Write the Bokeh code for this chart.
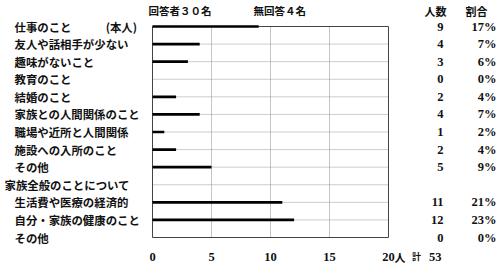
from bokeh.plotting import figure
from bokeh.models import Range1d, ColumnDataSource
from bokeh.core.properties import value
from bokeh.embed import file_html
from bokeh.resources import INLINE

# ---- data ----
categories = ["仕事のこと　　　(本人)", "友人や話相手が少ない", "趣味がないこと", "教育のこと",
              "結婚のこと", "家族との人間関係のこと", "職場や近所と人間関係", "施設への入所のこと",
              "その他", "家族全般のことについて", "生活費や医療の経済的", "自分・家族の健康のこと", "その他"]
counts = [9, 4, 3, 0, 2, 4, 1, 2, 5, None, 11, 12, 0]
percents = ["17%", "7%", "6%", "0%", "4%", "7%", "2%", "4%", "9%", "", "21%", "23%", "0%"]
is_heading = [False, False, False, False, False, False, False, False, False, True, False, False, False]
x_ticks = [0, 5, 10, 15, 20]
x_unit = "人"
respondents = "回答者３０名"
no_answer = "無回答４名"
count_header = "人数"
pct_header = "割合"
total_label = "計"
total_value = "53"

rows = list(range(len(categories)))
n = len(categories)
xmax = x_ticks[-1]

W, H = 500, 265
left_px, right_px = 152, 388
top_px, bottom_px = 26, 237
sx = (right_px - left_px) / xmax
sy = (bottom_px - top_px) / (n - 1)

p = figure(width=W, height=H, output_backend="svg", toolbar_location=None,
           x_range=Range1d(-left_px / sx, (W - left_px) / sx),
           y_range=Range1d((H - top_px) / sy, -top_px / sy),
           min_border=0, outline_line_color=None)
p.axis.visible = False
p.grid.visible = False
p.background_fill_color = "white"
p.border_fill_color = "white"

# horizontal dotted grid lines at each row
p.segment(x0=[0] * n, x1=[xmax] * n, y0=rows, y1=rows, line_color="#9a9a9a",
          line_width=1, line_dash="1 1")
# vertical dotted grid lines
inner = x_ticks[1:-1]
p.segment(x0=inner, x1=inner, y0=[0] * len(inner), y1=[n - 1] * len(inner),
          line_color="#8a8a8a", line_width=1, line_dash="1 1")
# frame
p.quad(left=[0], right=[xmax], top=[0], bottom=[n - 1], fill_color=None,
       line_color="#444444", line_width=1)

# bars
bar_rows = [r for r, c in zip(rows, counts) if c]
bar_vals = [c for c in counts if c]
p.segment(x0=[0] * len(bar_vals), x1=bar_vals, y0=bar_rows, y1=bar_rows,
          line_color="black", line_width=2.6)

# category labels
lab_src = ColumnDataSource(dict(
    x=[0] * n, y=rows, text=categories,
    xo=[-(left_px - 4) if h else -(left_px - 14) for h in is_heading]))
p.text(x="x", y="y", text="text", x_offset="xo", source=lab_src,
       text_font=value("Noto Sans CJK JP"), text_font_style="bold",
       text_font_size="11.4px", text_align="left", text_baseline="middle",
       text_color="#111111")

# count and percent columns
cnt_rows = [r for r, c in zip(rows, counts) if c is not None]
cnt_text = [str(c) for c in counts if c is not None]
p.text(x=[xmax] * len(cnt_rows), y=cnt_rows, text=cnt_text, x_offset=443 - right_px,
       text_font=value("Liberation Serif"), text_font_style="bold", text_font_size="12.5px",
       text_align="right", text_baseline="middle", text_color="#111111")
p.text(x=[xmax] * len(cnt_rows), y=cnt_rows,
       text=[t for t in percents if t], x_offset=496 - right_px,
       text_font=value("Liberation Serif"), text_font_style="bold", text_font_size="12.5px",
       text_align="right", text_baseline="middle", text_color="#111111")

# headers
p.text(x=[0, 0], y=[0, 0], text=[respondents, no_answer], x_offset=[-4, 101], y_offset=-16,
       text_font=value("Noto Sans CJK JP"), text_font_style="bold", text_font_size="10.5px",
       text_align="left", text_baseline="middle", text_color="#111111")
p.text(x=[xmax, xmax], y=[0, 0], text=[count_header, pct_header],
       x_offset=[435 - right_px, 476 - right_px], y_offset=-16,
       text_font=value("Noto Sans CJK JP"), text_font_style="bold", text_font_size="11px",
       text_align="center", text_baseline="middle", text_color="#111111")

# x tick labels
p.text(x=x_ticks, y=[n - 1] * len(x_ticks), text=[str(t) for t in x_ticks], y_offset=19,
       text_font=value("Liberation Serif"), text_font_style="bold", text_font_size="12.5px",
       text_align="center", text_baseline="middle", text_color="#111111")
p.text(x=[xmax], y=[n - 1], text=[x_unit], x_offset=6, y_offset=19,
       text_font=value("Noto Sans CJK JP"), text_font_style="bold", text_font_size="11px",
       text_align="left", text_baseline="middle", text_color="#111111")
# total
p.text(x=[xmax], y=[n - 1], text=[total_label], x_offset=416 - right_px, y_offset=19,
       text_font=value("Noto Sans CJK JP"), text_font_style="bold", text_font_size="9px",
       text_align="center", text_baseline="middle", text_color="#111111")
p.text(x=[xmax], y=[n - 1], text=[total_value], x_offset=441 - right_px, y_offset=19,
       text_font=value("Liberation Serif"), text_font_style="bold", text_font_size="12.5px",
       text_align="right", text_baseline="middle", text_color="#111111")

open("out.html", "w").write(file_html(p, INLINE))
